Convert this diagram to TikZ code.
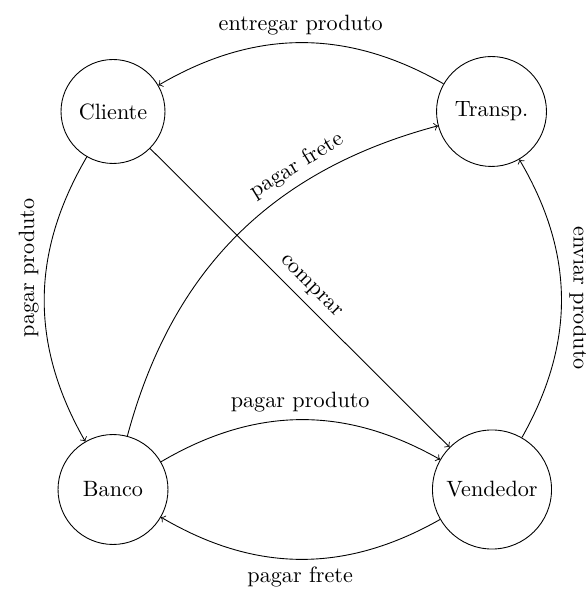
\documentclass[tikz,border=0pt]{standalone}
\begin{document}
\begin{tikzpicture}[x=0.4511pt,y=0.4511pt,
  state/.style={draw,circle,inner sep=0pt},
  flow/.style={->}]
\useasboundingbox (0,0) rectangle (585,590);
\node[state,minimum size=46.9pt] (C) at (113,478.5) {Cliente};
\node[state,minimum size=49.6pt] (T) at (491.5,478.5) {Transp.};
\node[state,minimum size=49.6pt] (B) at (113,100.5) {Banco};
\node[state,minimum size=53.7pt] (V) at (492,100.5) {Vendedor};
\draw[flow] (T) to[bend right=30] node[midway,above] {entregar produto} (C);
\draw[flow] (C) to[bend right=30] node[pos=0.39,rotate=90,anchor=south] {pagar produto} (B);
\draw[flow] (V) to[bend right=30] node[midway,rotate=-90,anchor=south] {enviar produto} (T);
\draw[flow] (B) to[bend left=30] node[pos=0.7,sloped,above] {pagar frete} (T);
\draw[flow] (C) -- node[midway,sloped,above] {comprar} (V);
\draw[flow] (B) to[bend left=30] node[midway,above] {pagar produto} (V);
\draw[flow] (V) to[bend left=30] node[midway,below] {pagar frete} (B);
\end{tikzpicture}
\end{document}
